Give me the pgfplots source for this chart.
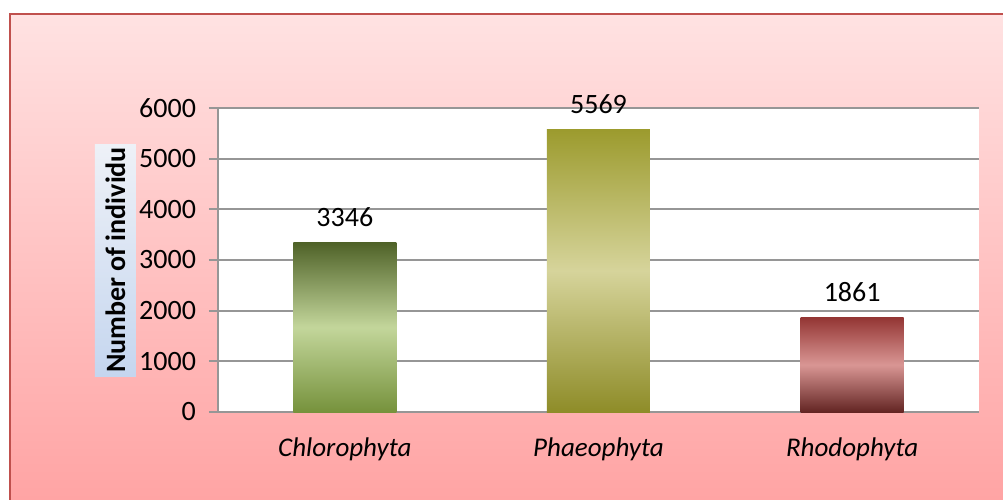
\documentclass[border=0pt]{standalone}
\usepackage{pgfplots}
\pgfplotsset{compat=1.18}
\usepackage{fontspec}
\setmainfont{Carlito}
\definecolor{bgtop}{HTML}{FFE2E2}
\definecolor{bgbot}{HTML}{FFA4A4}
\definecolor{bordercol}{HTML}{C0504D}
\definecolor{gridgray}{HTML}{969696}
\definecolor{chtop}{HTML}{4F6228}
\definecolor{chmid}{HTML}{C3D69B}
\definecolor{chbot}{HTML}{76923C}
\definecolor{phtop}{HTML}{9C9B2E}
\definecolor{phmid}{HTML}{D6D49B}
\definecolor{phbot}{HTML}{8E8C28}
\definecolor{rhtop}{HTML}{943634}
\definecolor{rhmid}{HTML}{D99694}
\definecolor{rhbot}{HTML}{632523}
\definecolor{lbla}{HTML}{EEF1F7}
\definecolor{lblb}{HTML}{C5D6EF}
\begin{document}
\begin{tikzpicture}[x=1pt,y=1pt]
\path[use as bounding box] (0,0) rectangle (501.5,249.5);
\shade[top color=bgtop, bottom color=bgbot] (5,0) rectangle (520,242.5);
\draw[bordercol, line width=1pt] (5,-10) -- (5,242.5) -- (520,242.5);
\begin{axis}[
  at={(109pt,43.5pt)}, anchor=south west,
  width=380.5pt, height=152pt, scale only axis,
  axis background/.style={fill=white},
  xmin=-0.5, xmax=2.5, ymin=0, ymax=6000,
  xtick={0,1,2}, xticklabels={Chlorophyta,Phaeophyta,Rhodophyta},
  x tick label style={font=\fontsize{13.5}{16}\selectfont\itshape, yshift=-5pt},
  major x tick style={draw=none},
  ytick={0,1000,2000,3000,4000,5000,6000},
  y tick label style={font=\fontsize{14}{16}\selectfont, xshift=-3pt},
  /pgf/number format/assume math mode=true,
  /pgf/number format/set thousands separator={},
  ymajorgrids,
  major grid style={draw=gridgray, line width=1pt},
  axis x line*=bottom, axis y line*=left,
  axis line style={draw=gridgray, line width=1pt, -},
  ytick pos=left, tick align=outside, major tick length=4.5pt,
  major y tick style={draw=gridgray, line width=1pt},
  ylabel={\bfseries Number of individu},
  ylabel style={at={(axis description cs:-0.1347,0.5)}, anchor=center, rotate=0,
    font=\fontsize{14}{16}\selectfont,
    minimum width=116pt, minimum height=20.5pt, inner sep=0pt,
    shading=axis, top color=lbla, bottom color=lblb},
  nodes near coords,
  every node near coord/.append style={font=\fontsize{14}{16}\selectfont, text=black, yshift=4.5pt},
  clip=false,
]
\addplot[ybar, bar width=51.5pt, bar shift=0pt, draw=none, shading=axis, top color=chtop, bottom color=chbot, middle color=chmid] coordinates {(0,3346)};
\addplot[ybar, bar width=51.5pt, bar shift=0pt, draw=none, shading=axis, top color=phtop, bottom color=phbot, middle color=phmid] coordinates {(1,5569)};
\addplot[ybar, bar width=51.5pt, bar shift=0pt, draw=none, shading=axis, top color=rhtop, bottom color=rhbot, middle color=rhmid] coordinates {(2,1861)};
\end{axis}
\end{tikzpicture}
\end{document}
